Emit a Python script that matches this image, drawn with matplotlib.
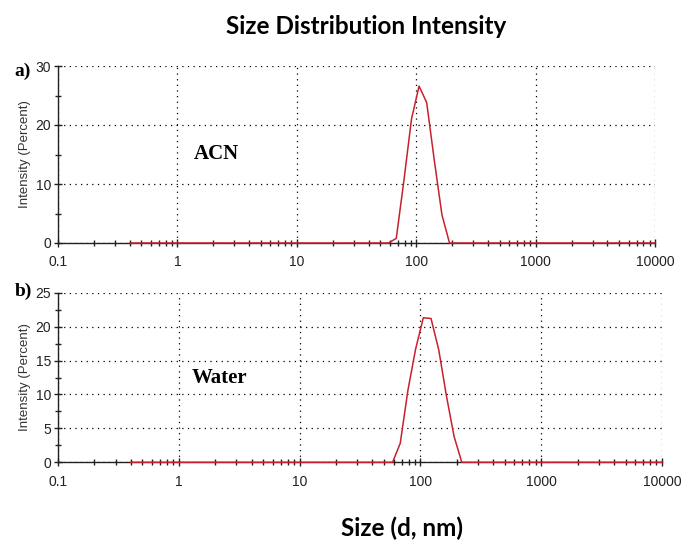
import matplotlib
matplotlib.use("Agg")
import matplotlib.pyplot as plt
from matplotlib.ticker import FixedLocator, FixedFormatter, LogLocator, NullFormatter, MultipleLocator

# ---- data ----
acn_size = [0.4, 58.8, 68.1, 78.8, 91.3, 105.7, 122.4, 141.8, 164.2, 190.1, 10000]
acn_intensity = [0, 0, 0.8, 10.5, 21.0, 26.6, 23.8, 14.0, 4.8, 0, 0]

water_size = [0.4, 58.8, 68.1, 78.8, 91.3, 105.7, 122.4, 141.8, 164.2, 190.1, 220.1, 10000]
water_intensity = [0, 0, 2.8, 10.6, 16.7, 21.3, 21.2, 16.6, 9.8, 3.8, 0, 0]

x_ticks = [0.1, 1, 10, 100, 1000, 10000]
x_tick_labels = ["0.1", "1", "10", "100", "1000", "10000"]
acn_yticks = [0, 10, 20, 30]
water_yticks = [0, 5, 10, 15, 20, 25]

title = "Size Distribution Intensity"
xlabel = "Size (d, nm)"
ylabel = "Intensity (Percent)"

W, H = 681, 546
fig = plt.figure(figsize=(W / 100, H / 100), dpi=100)

RED = "#c8202c"
tick_font = dict(family=["Liberation Sans", "DejaVu Sans"], size=10)


def px_axes(x0, y_top, x1, y_bot):
    return fig.add_axes([x0 / W, 1 - y_bot / H, (x1 - x0) / W, (y_bot - y_top) / H])


def style(ax, sizes, vals, yticks, ymax, yminor, label, lab_pos):
    ax.plot(sizes, vals, color=RED, lw=1.1, zorder=4, clip_on=False)
    ax.set_xscale("log")
    ax.set_xlim(0.1, 10000)
    ax.set_ylim(0, ymax)
    ax.xaxis.set_major_locator(FixedLocator(x_ticks))
    ax.xaxis.set_major_formatter(FixedFormatter(x_tick_labels))
    ax.xaxis.set_minor_locator(LogLocator(base=10, subs=[2, 3, 4, 5, 6, 7, 8, 9]))
    ax.xaxis.set_minor_formatter(NullFormatter())
    ax.set_yticks(yticks)
    ax.yaxis.set_minor_locator(MultipleLocator(yminor))
    for s in ("top", "right"):
        ax.spines[s].set_visible(False)
    for s in ("left", "bottom"):
        ax.spines[s].set_color("#222222")
        ax.spines[s].set_linewidth(1.0)
    ax.tick_params(axis="both", which="major", direction="inout", length=6, width=1.0, color="#222222")
    ax.tick_params(axis="both", which="minor", direction="inout", length=5, width=1.0, color="#222222")
    ax.tick_params(axis="x", which="major", pad=6)
    ax.tick_params(axis="y", which="major", pad=2)
    for lbl in ax.get_xticklabels() + ax.get_yticklabels():
        lbl.set_fontfamily(tick_font["family"])
        lbl.set_fontsize(tick_font["size"])
        lbl.set_color("#222222")
    ax.grid(True, which="major", color="black", linestyle=(0, (1, 3.5)), linewidth=0.9)
    ax.set_axisbelow(True)
    ax.set_ylabel(ylabel, fontfamily=["Liberation Sans", "DejaVu Sans"], fontsize=9.5, color="#333333", labelpad=3)
    ax.text(lab_pos[0], lab_pos[1], label, transform=ax.transAxes, ha="center", va="center",
            fontfamily=["Liberation Serif", "DejaVu Serif"], fontweight="bold", fontsize=15)


ax1 = px_axes(58, 66, 655, 243)
style(ax1, acn_size, acn_intensity, acn_yticks, 30, 5, "ACN", (0.266, 0.505))
ax2 = px_axes(58, 292.7, 662, 462.3)
style(ax2, water_size, water_intensity, water_yticks, 25, 2.5, "Water", (0.268, 0.497))

fig.text(23 / W, 1 - 71 / H, "a)", ha="center", va="center",
         fontfamily=["Liberation Serif", "DejaVu Serif"], fontweight="bold", fontsize=14)
fig.text(23 / W, 1 - 291 / H, "b)", ha="center", va="center",
         fontfamily=["Liberation Serif", "DejaVu Serif"], fontweight="bold", fontsize=14)

fig.text(366 / W, 1 - 27 / H, title, ha="center", va="center",
         fontfamily=["Lato", "DejaVu Sans"], fontweight="bold", fontsize=17.5)
fig.text(402 / W, 1 - 528 / H, xlabel, ha="center", va="center",
         fontfamily=["Lato", "DejaVu Sans"], fontweight="bold", fontsize=17.5)

fig.savefig("out.png", dpi=100)
